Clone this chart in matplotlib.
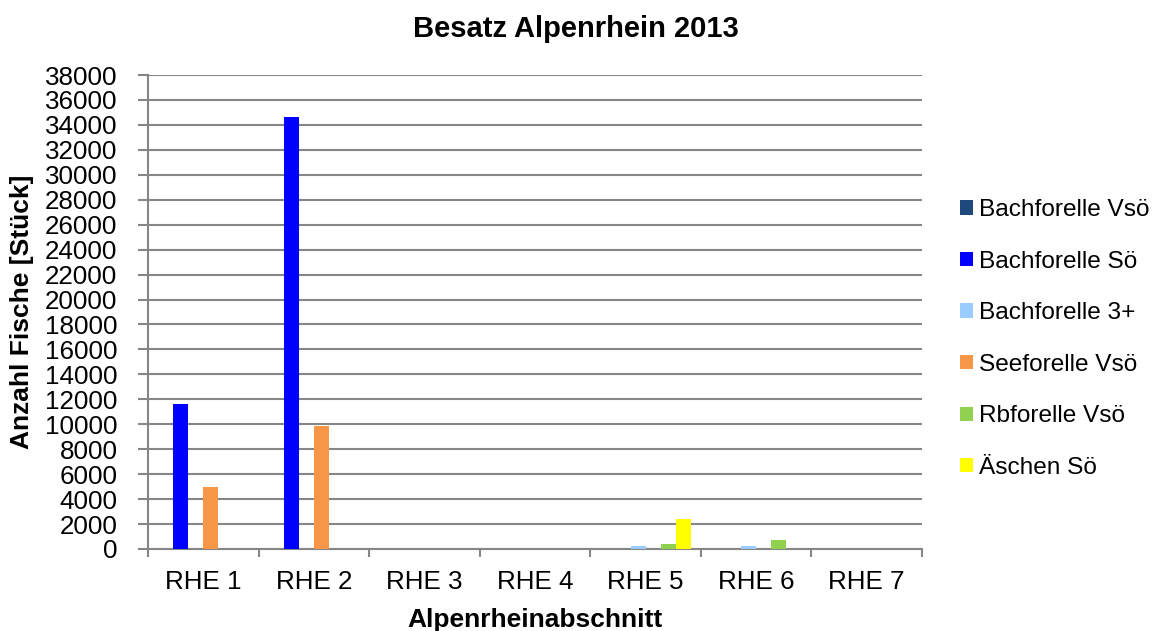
import matplotlib
matplotlib.use("Agg")
import matplotlib.pyplot as plt
import numpy as np
from matplotlib.patches import Patch

plt.rcParams['font.family'] = ['Liberation Sans', 'DejaVu Sans']

categories = ["RHE 1", "RHE 2", "RHE 3", "RHE 4", "RHE 5", "RHE 6", "RHE 7"]
series_names = ["Bachforelle Vsö", "Bachforelle Sö", "Bachforelle 3+",
                "Seeforelle Vsö", "Rbforelle Vsö", "Äschen Sö"]
bachforelle_vso = [0, 0, 0, 0, 0, 0, 0]
bachforelle_so = [11600, 34600, 0, 0, 0, 0, 0]
bachforelle_3p = [0, 0, 0, 0, 270, 270, 0]
seeforelle_vso = [5000, 9850, 0, 0, 0, 0, 0]
rbforelle_vso = [0, 0, 0, 0, 430, 750, 0]
aeschen_so = [0, 0, 0, 0, 2400, 0, 0]
colors = ["#1F497D", "#0000FF", "#99CCFF", "#F79646", "#92D050", "#FFFF00"]
yticks = list(range(0, 38001, 2000))

data = [bachforelle_vso, bachforelle_so, bachforelle_3p, seeforelle_vso, rbforelle_vso, aeschen_so]

FS = 18.7

fig = plt.figure(figsize=(11.52, 6.31), dpi=100)
ax = fig.add_axes([0.1285, 0.13, 0.8003 - 0.1285, 0.8811 - 0.13])

x = np.arange(len(categories))
bw = 0.136
for i, (vals, c, name) in enumerate(zip(data, colors, series_names)):
    ax.bar(x + (i - 2.5) * bw, vals, width=bw, color=c, label=name, zorder=3)

ax.set_xlim(-0.5, len(categories) - 0.5)
ax.set_ylim(0, 38000)
ax.set_yticks(yticks)
ax.set_yticklabels([str(v) for v in yticks], fontsize=FS)
ax.set_xticks(x)
ax.set_xticklabels(categories, fontsize=FS)
ax.tick_params(axis='x', length=0, pad=15)
ax.set_xticks(np.arange(-0.5, len(categories)), minor=True)
ax.tick_params(axis='x', which='minor', length=6, width=1.5, color='#868686', direction='out')
ax.tick_params(axis='y', length=7, width=1.5, color='#868686', direction='out', pad=15)

ax.yaxis.grid(True, color='#868686', linewidth=1.5, zorder=0)
ax.set_axisbelow(True)
for s in ['top', 'right']:
    ax.spines[s].set_visible(False)
for s in ['left', 'bottom']:
    ax.spines[s].set_color('#868686')
    ax.spines[s].set_linewidth(1.5)

fig.text(535 / 1152, 1 - 627 / 631, "Alpenrheinabschnitt", fontsize=19, fontweight='bold',
         ha='center', va='baseline')
fig.text(22 / 1152, 1 - 312 / 631, "Anzahl Fische [Stück]", fontsize=19, fontweight='bold',
         ha='center', va='center', rotation=90)
fig.text(576 / 1152, 1 - 37 / 631, "Besatz Alpenrhein 2013", fontsize=21, fontweight='bold',
         ha='center', va='baseline')

handles = [Patch(facecolor=c, edgecolor='none') for c in colors]
fig.legend(handles, series_names, loc='center left', bbox_to_anchor=(960 / 1152, 1 - 339 / 631),
           frameon=False, fontsize=17.6, handlelength=0.53, handleheight=0.53,
           handletextpad=0.25, labelspacing=1.21, borderpad=0, borderaxespad=0)

fig.savefig("out.png", dpi=100)
